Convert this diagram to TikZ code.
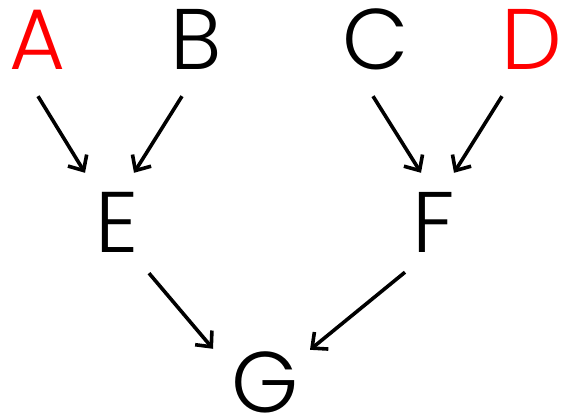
\documentclass[tikz,border=0pt]{standalone}
\usepackage{fontspec}
\setmainfont{Poppins Light}
\usepackage{xcolor}
\usetikzlibrary{arrows, arrows.meta}

\begin{document}
\begin{tikzpicture}[x=1pt,y=-1pt,
  letter/.style={inner sep=0pt, text height=60pt, text depth=0pt, font=\fontsize{86}{86}\selectfont},
  arr/.style={-{Straight Barb[length=12pt,width=22pt]}, line width=3.6pt}]
\useasboundingbox (0,0) rectangle (562,420);

\node[letter,red] (A) at (38,40) {A};
\node[letter] (B) at (196,40) {B};
\node[letter] (C) at (376,40) {C};
\node[letter,red] (D) at (532,40) {D};

\node[letter] (E) at (117,222) {E};
\node[letter] (F) at (434,222) {F};

\node[letter] (G) at (265,382) {G};

%top row into middle row
\draw[arr] ([shift={(0,26)}]A.south) -- ([shift={(-32,-19)}]E.north);
\draw[arr] ([shift={(-14,26)}]B.south) -- ([shift={(17,-19)}]E.north);
\draw[arr] ([shift={(-3,26)}]C.south) -- ([shift={(-13,-19)}]F.north);
\draw[arr] ([shift={(-30,26)}]D.south) -- ([shift={(20,-19)}]F.north);

%middle row into G
\draw[arr] ([shift={(32,21)}]E.south) -- ([shift={(-52,-3)}]G.north);
\draw[arr] ([shift={(-29,20)}]F.south) -- ([shift={(45,-2)}]G.north);

\end{tikzpicture}
\end{document}
